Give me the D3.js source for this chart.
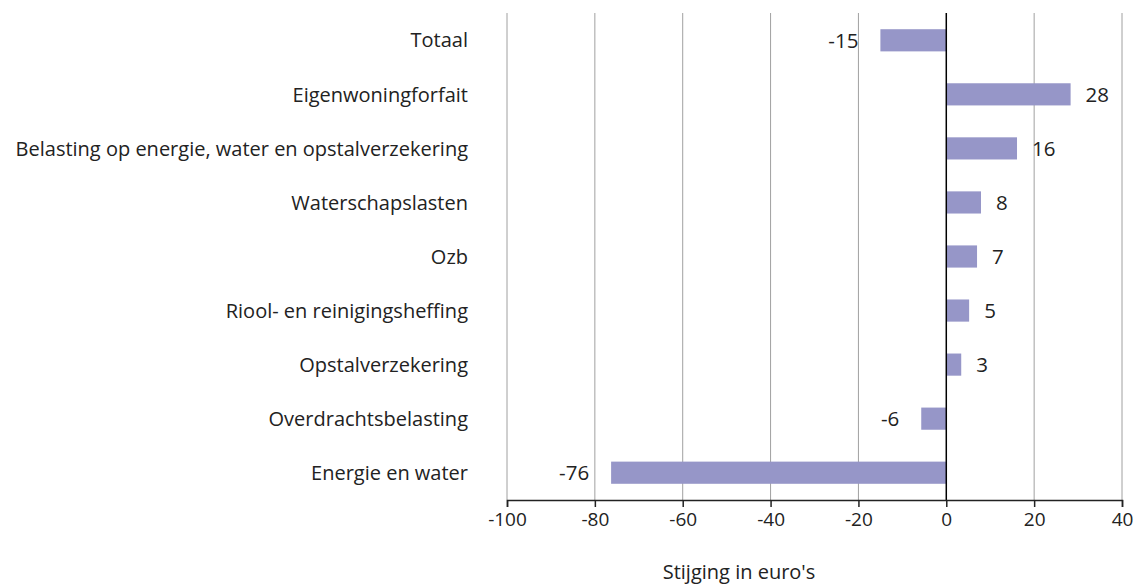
<!DOCTYPE html>
<html>
<head>
<meta charset="utf-8">
<script src="https://cdn.jsdelivr.net/npm/d3@7"></script>
<style>
  body { margin: 0; background: #fff; font-family: "Open Sans", sans-serif; }
</style>
</head>
<body>
<svg id="chart"></svg>
<script>
// data
const categories = [
  "Totaal",
  "Eigenwoningforfait",
  "Belasting op energie, water en opstalverzekering",
  "Waterschapslasten",
  "Ozb",
  "Riool- en reinigingsheffing",
  "Opstalverzekering",
  "Overdrachtsbelasting",
  "Energie en water"
]
const values = [-15, 28.3, 16.1, 7.9, 7, 5.2, 3.4, -5.7, -76.3]
const xTicks = [-100, -80, -60, -40, -20, 0, 20, 40]
const axisTitle = "Stijging in euro's"

const width = 1136, height = 585
const margin = { top: 13, right: 14, bottom: 85, left: 507 }
const innerW = width - margin.left - margin.right
const innerH = height - margin.top - margin.bottom
const font = "'Open Sans', sans-serif"
const textColor = "#222"

const svg = d3.select("#chart")
    .attr("width", width)
    .attr("height", height)
    .attr("font-family", font)

const group = svg.append("g")
    .attr("transform", `translate(${margin.left}, ${margin.top})`)

const data_ready = categories.map((c, i) => ({ group: c, value: values[i] }))

// scales
const xScale = d3.scaleLinear()
    .domain([-100, 40])
    .range([0, innerW])

const yScale = d3.scaleBand()
    .domain(categories)
    .range([0, innerH])
    .paddingInner(0.59)
    .paddingOuter(0.3)

// gridlines
group.append("g")
    .selectAll("line")
    .data(xTicks.filter(d => d !== 0))
    .enter()
    .append("line")
        .attr("x1", d => xScale(d))
        .attr("x2", d => xScale(d))
        .attr("y1", 0)
        .attr("y2", innerH)
        .attr("stroke", "#a0a0a0")
        .attr("stroke-width", 1)

// bars
group.selectAll("rect")
    .data(data_ready)
    .enter()
    .append("rect")
        .attr("x", d => xScale(Math.min(0, d.value)))
        .attr("y", d => yScale(d.group))
        .attr("width", d => Math.abs(xScale(d.value) - xScale(0)))
        .attr("height", yScale.bandwidth())
        .attr("fill", "#9696c8")

// zero line
group.append("line")
    .attr("x1", xScale(0))
    .attr("x2", xScale(0))
    .attr("y1", 0)
    .attr("y2", innerH)
    .attr("stroke", "#000")
    .attr("stroke-width", 1.5)

// x axis
const xAxisGenerator = d3.axisBottom(xScale)
    .tickValues(xTicks)
    .tickSize(7)
    .tickPadding(6)
    .tickFormat(d => String(d))

const xAxis = group.append("g")
    .attr("transform", `translate(0, ${innerH})`)
    .call(xAxisGenerator)
xAxis.select(".domain").attr("stroke", textColor).attr("stroke-width", 1.5)
xAxis.selectAll(".tick line").attr("stroke", textColor).attr("stroke-width", 1.5)
xAxis.selectAll("text")
    .attr("fill", textColor)
    .attr("font-size", "19px")
    .attr("font-family", font)

// category labels
group.append("g")
    .selectAll("text")
    .data(data_ready)
    .enter()
    .append("text")
        .attr("x", -39)
        .attr("y", d => yScale(d.group) + yScale.bandwidth() / 2)
        .attr("dy", "0.36em")
        .attr("text-anchor", "end")
        .attr("fill", textColor)
        .attr("font-size", "20px")
        .text(d => d.group)

// value labels
group.append("g")
    .selectAll("text")
    .data(data_ready)
    .enter()
    .append("text")
        .attr("x", d => d.value >= 0 ? xScale(d.value) + 15 : xScale(d.value) - 22)
        .attr("y", d => yScale(d.group) + yScale.bandwidth() / 2)
        .attr("dy", "0.36em")
        .attr("text-anchor", d => d.value >= 0 ? "start" : "end")
        .attr("fill", textColor)
        .attr("font-size", "20.5px")
        .text(d => String(Math.round(d.value)))

// axis title
svg.append("text")
    .attr("x", 739)
    .attr("y", 572)
    .attr("dy", "0.36em")
    .attr("text-anchor", "middle")
    .attr("fill", textColor)
    .attr("font-size", "20px")
    .text(axisTitle)
</script>
</body>
</html>
